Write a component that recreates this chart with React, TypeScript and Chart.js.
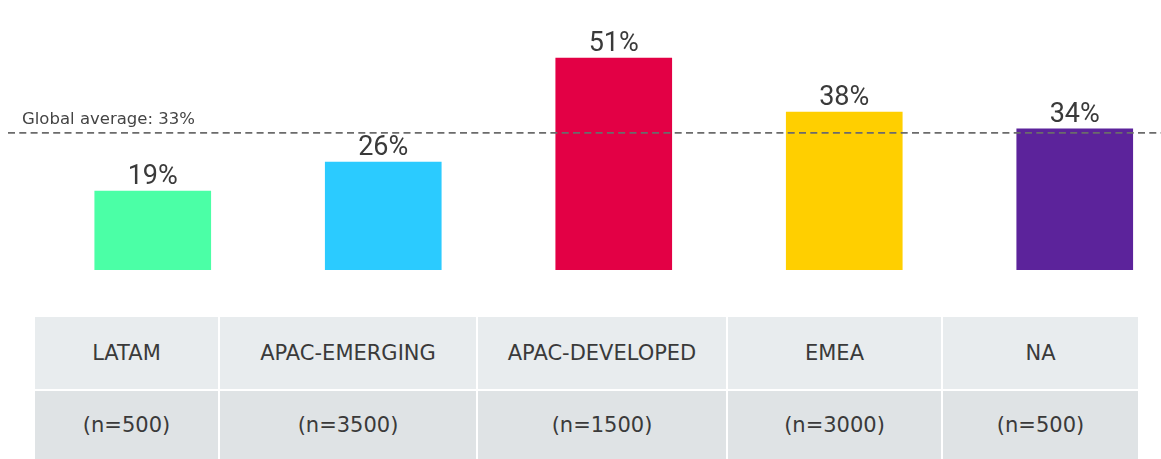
import React, { useEffect, useRef } from "react";
import { Chart, registerables } from "chart.js";

Chart.register(...registerables);

const CATEGORIES = ["LATAM", "APAC-EMERGING", "APAC-DEVELOPED", "EMEA", "NA"];
const VALUES = [19, 26, 51, 38, 34];
const SAMPLE_SIZES = ["(n=500)", "(n=3500)", "(n=1500)", "(n=3000)", "(n=500)"];
const GLOBAL_AVERAGE = 33;
const GLOBAL_LABEL = "Global average: 33%";

const BAR_COLORS = ["#4BFFA6", "#2BCBFF", "#E30045", "#FFCF00", "#5C239B"];
const COLUMN_WIDTHS = [183, 256, 248, 213, 195];

const TEXT_FONT = '"DejaVu Sans", sans-serif';
const VALUE_FONT = 'Roboto, sans-serif';

export default function App() {
  const canvasRef = useRef<HTMLCanvasElement | null>(null);

  useEffect(() => {
    if (!canvasRef.current) return;
    const overlay = {
      id: "overlay",
      afterDatasetsDraw(chart: any) {
        const ctx = chart.ctx;
        const meta = chart.getDatasetMeta(0);
        ctx.save();
        ctx.fillStyle = "#3a3a3a";
        ctx.font = `400 27px ${VALUE_FONT}`;
        ctx.textAlign = "center";
        ctx.textBaseline = "alphabetic";
        meta.data.forEach((bar: any, i: number) => {
          ctx.fillText(`${VALUES[i]}%`, bar.x, bar.y - 7);
        });
        const y = chart.scales.y.getPixelForValue(GLOBAL_AVERAGE);
        ctx.strokeStyle = "#6b6b6b";
        ctx.lineWidth = 1.6;
        ctx.setLineDash([7, 4.3]);
        ctx.beginPath();
        ctx.moveTo(8, y);
        ctx.lineTo(chart.width, y);
        ctx.stroke();
        ctx.setLineDash([]);
        ctx.fillStyle = "#444444";
        ctx.font = `16.5px ${TEXT_FONT}`;
        ctx.textAlign = "left";
        ctx.fillText(GLOBAL_LABEL, 22, y - 9);
        ctx.restore();
      },
    };
    const chart = new Chart(canvasRef.current, {
      type: "bar",
      data: {
        labels: CATEGORIES,
        datasets: [
          {
            data: VALUES,
            backgroundColor: BAR_COLORS,
            borderWidth: 0,
            barThickness: 116,
          },
        ],
      },
      options: {
        animation: false,
        responsive: false,
        devicePixelRatio: 1,
        layout: { padding: { left: 37.5, right: 10, top: 0, bottom: 20 } },
        plugins: {
          legend: { display: false },
          tooltip: { enabled: false },
        },
        scales: {
          x: { display: false },
          y: { display: false, min: 0, max: 65 },
        },
      },
      plugins: [overlay],
    });
    return () => chart.destroy();
  }, []);

  const cellBase: React.CSSProperties = {
    display: "flex",
    alignItems: "center",
    justifyContent: "center",
    fontFamily: TEXT_FONT,
    color: "#3a3a3a",
  };

  return (
    <div
      style={{
        position: "absolute",
        left: 0,
        top: 0,
        width: 1161,
        height: 459,
        overflow: "hidden",
        background: "#ffffff",
      }}
    >
      <canvas
        ref={canvasRef}
        width={1200}
        height={290}
        style={{ position: "absolute", left: 0, top: 0, width: 1200, height: 290 }}
      />
      <div
        style={{
          position: "absolute",
          left: 35,
          top: 317,
          display: "grid",
          gridTemplateColumns: COLUMN_WIDTHS.map((w) => `${w}px`).join(" "),
          gridTemplateRows: "72px 68px",
          columnGap: 2,
          rowGap: 2,
          background: "#ffffff",
        }}
      >
        {CATEGORIES.map((c) => (
          <div key={"h" + c} style={{ ...cellBase, background: "#E8ECEE", fontSize: 21 }}>
            {c}
          </div>
        ))}
        {SAMPLE_SIZES.map((s, i) => (
          <div key={"n" + i} style={{ ...cellBase, background: "#DFE3E5", fontSize: 21 }}>
            {s}
          </div>
        ))}
      </div>
    </div>
  );
}
